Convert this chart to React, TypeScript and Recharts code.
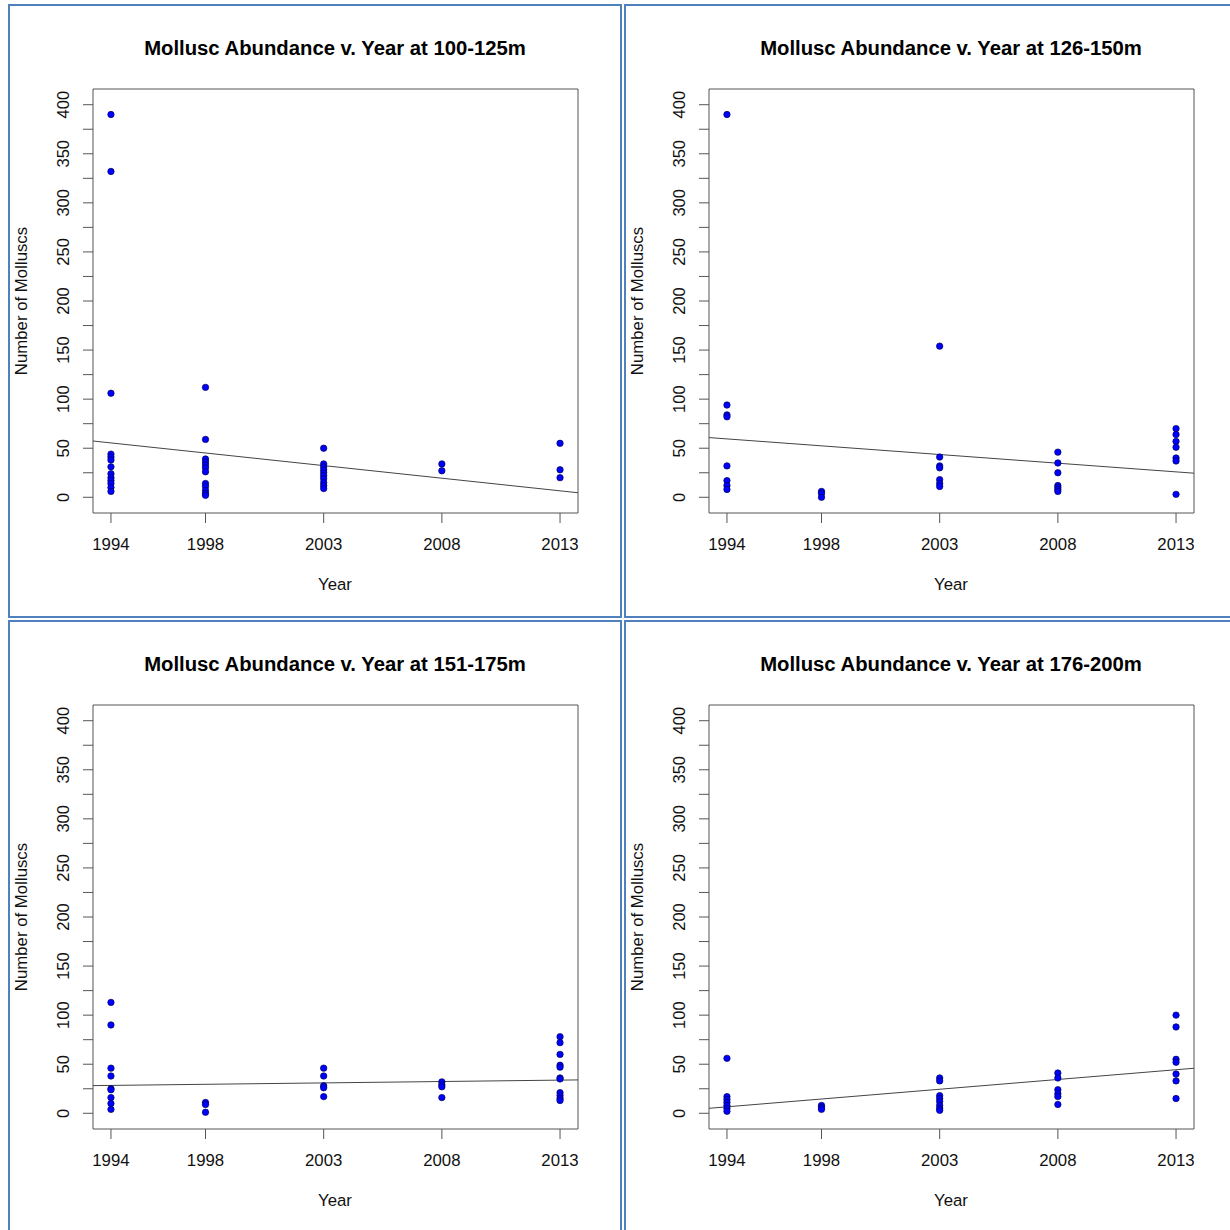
import React from 'react';
import { ScatterChart, Scatter, XAxis, YAxis, ReferenceLine, ReferenceArea } from 'recharts';

// ---- data ----
const years = [1994, 1998, 2003, 2008, 2013];
const yTicks = [0, 25, 50, 75, 100, 125, 150, 175, 200, 225, 250, 275, 300, 325, 350, 375, 400];
const yLabelStep = 50;

const depthBands = ['100-125m', '126-150m', '151-175m', '176-200m'];

// counts per year (same order as `years`)
const counts100to125: number[][] = [
  [390, 332, 106, 44, 41, 38, 31, 24, 20, 17, 14, 10, 6],
  [112, 59, 39, 36, 33, 30, 26, 14, 11, 7, 4, 2],
  [50, 34, 31, 28, 25, 22, 19, 15, 12, 9],
  [34, 27],
  [55, 28, 20],
];
const counts126to150: number[][] = [
  [390, 94, 84, 82, 32, 17, 12, 8],
  [6, 4, 0],
  [154, 41, 32, 30, 18, 14, 11],
  [46, 35, 25, 12, 10, 8, 6],
  [70, 64, 57, 51, 40, 37, 3],
];
const counts151to175: number[][] = [
  [113, 90, 46, 38, 25, 24, 16, 10, 4],
  [11, 9, 1],
  [46, 38, 28, 26, 17],
  [32, 29, 27, 16],
  [78, 72, 60, 49, 47, 36, 35, 21, 18, 15, 13],
];
const counts176to200: number[][] = [
  [56, 17, 14, 11, 8, 5, 2],
  [8, 6, 4],
  [36, 33, 18, 15, 12, 8, 5, 3],
  [41, 36, 24, 20, 17, 9],
  [100, 88, 55, 52, 40, 33, 15],
];

// fitted trend line value at first and last year
const trend100to125 = [55.4, 6.6];
const trend126to150 = [59.5, 25.9];
const trend151to175 = [28.4, 33.8];
const trend176to200 = [6.6, 44.4];

const yRange = [0, 400];

// ---- derived ----
const panels = [
  { band: depthBands[0], counts: counts100to125, trend: trend100to125 },
  { band: depthBands[1], counts: counts126to150, trend: trend126to150 },
  { band: depthBands[2], counts: counts151to175, trend: trend151to175 },
  { band: depthBands[3], counts: counts176to200, trend: trend176to200 },
];

const xSpan = years[years.length - 1] - years[0];
const X_MIN = years[0] - 0.04 * xSpan;
const X_MAX = years[years.length - 1] + 0.04 * xSpan;
const ySpan = yRange[1] - yRange[0];
const Y_MIN = yRange[0] - 0.04 * ySpan;
const Y_MAX = yRange[1] + 0.04 * ySpan;

const FONT = '"Liberation Sans", Arial, Helvetica, sans-serif';
const BORDER = '#4f81bd';
const AXIS = '#555555';

const YTick = (props: any) => {
  const { x, y, payload } = props;
  if (payload.value % yLabelStep !== 0) return <g />;
  return (
    <text
      x={x}
      y={y}
      transform={`rotate(-90 ${x} ${y})`}
      textAnchor="middle"
      fontFamily={FONT}
      fontSize={16.5}
      fill="#111"
    >
      {payload.value}
    </text>
  );
};

const XTick = (props: any) => {
  const { x, y, payload } = props;
  return (
    <text x={x} y={y + 12.7} textAnchor="middle" fontFamily={FONT} fontSize={16.8} fill="#111">
      {payload.value}
    </text>
  );
};

const Dot = (props: any) => {
  const { cx, cy } = props;
  return <circle cx={cx} cy={cy} r={3.2} fill="#0000ff" stroke="#00005a" strokeWidth={0.7} />;
};

function Panel({ band, counts, trend, left, top }: any) {
  const points = counts.flatMap((vals: number[], i: number) =>
    vals.map((v) => ({ year: years[i], count: v }))
  );
  const slope = (trend[1] - trend[0]) / xSpan;
  const yAt = (xv: number) => trend[0] + slope * (xv - years[0]);
  return (
    <div
      style={{
        position: 'absolute',
        left,
        top,
        width: 614,
        height: 614,
        boxSizing: 'border-box',
        border: `2px solid ${BORDER}`,
        background: '#fff',
      }}
    >
      <div style={{ position: 'relative', width: 610, height: 610 }}>
        <ScatterChart
          width={610}
          height={610}
          margin={{ top: 83, right: 42, left: 23, bottom: 43 }}
        >
          <XAxis
            type="number"
            dataKey="year"
            domain={[X_MIN, X_MAX]}
            allowDataOverflow
            ticks={years}
            interval={0}
            height={60}
            tickSize={10}
            tickMargin={14}
            axisLine={false}
            tickLine={{ stroke: AXIS }}
            tick={<XTick />}
          />
          <YAxis
            type="number"
            dataKey="count"
            domain={[Y_MIN, Y_MAX]}
            allowDataOverflow
            ticks={yTicks}
            interval={0}
            width={60}
            tickSize={10}
            tickMargin={14}
            axisLine={false}
            tickLine={{ stroke: AXIS }}
            tick={<YTick />}
          />
          <ReferenceArea
            x1={X_MIN}
            x2={X_MAX}
            y1={Y_MIN}
            y2={Y_MAX}
            fill="none"
            stroke={AXIS}
            strokeWidth={1}
            ifOverflow="visible"
          />
          <ReferenceLine
            segment={[
              { x: X_MIN, y: yAt(X_MIN) },
              { x: X_MAX, y: yAt(X_MAX) },
            ]}
            stroke="#444"
            strokeWidth={1}
            ifOverflow="visible"
          />
          <Scatter data={points} shape={<Dot />} isAnimationActive={false} />
        </ScatterChart>
        <div
          style={{
            position: 'absolute',
            left: 325,
            top: 42,
            transform: 'translate(-50%, -50%)',
            fontFamily: FONT,
            fontWeight: 'bold',
            fontSize: 20.3,
            lineHeight: 1,
            whiteSpace: 'nowrap',
            color: '#000',
          }}
        >
          {`Mollusc Abundance v. Year at ${band}`}
        </div>
        <div
          style={{
            position: 'absolute',
            left: 325,
            top: 579,
            transform: 'translate(-50%, -50%)',
            fontFamily: FONT,
            fontSize: 16.8,
            lineHeight: 1,
            whiteSpace: 'nowrap',
            color: '#111',
          }}
        >
          Year
        </div>
        <div
          style={{
            position: 'absolute',
            left: 12,
            top: 295,
            transform: 'translate(-50%, -50%) rotate(-90deg)',
            fontFamily: FONT,
            fontSize: 16.8,
            lineHeight: 1,
            whiteSpace: 'nowrap',
            color: '#111',
          }}
        >
          Number of Molluscs
        </div>
      </div>
    </div>
  );
}

export default function App() {
  return (
    <div
      style={{
        position: 'absolute',
        left: 0,
        top: 0,
        width: 1230,
        height: 1230,
        overflow: 'hidden',
        background: '#fff',
      }}
    >
      {panels.map((p, i) => (
        <Panel
          key={p.band}
          band={p.band}
          counts={p.counts}
          trend={p.trend}
          left={8 + (i % 2) * 616}
          top={4 + Math.floor(i / 2) * 616}
        />
      ))}
    </div>
  );
}
